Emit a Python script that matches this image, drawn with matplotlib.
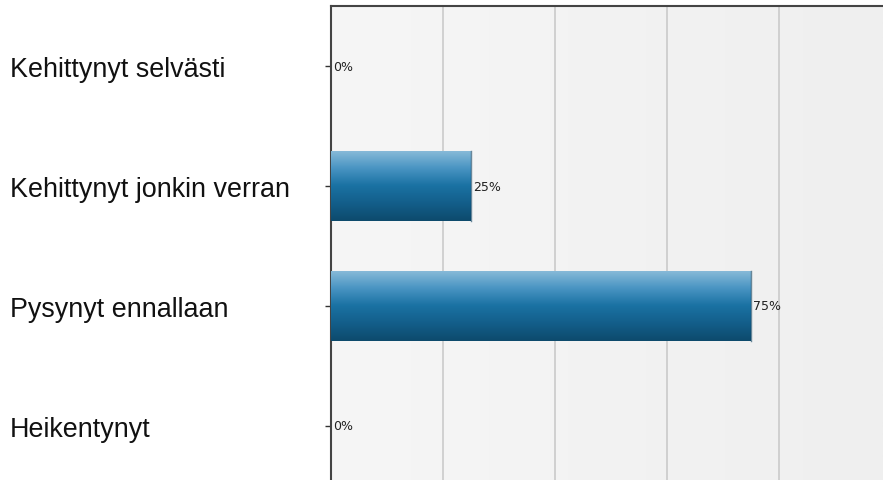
import matplotlib
matplotlib.use("Agg")
import matplotlib.pyplot as plt
import numpy as np
from matplotlib.colors import LinearSegmentedColormap

categories = ["Kehittynyt selvästi", "Kehittynyt jonkin verran", "Pysynyt ennallaan", "Heikentynyt"]
values = [0, 25, 75, 0]
value_labels = ["0%", "25%", "75%", "0%"]

fig = plt.figure(figsize=(8.83, 4.81), dpi=100)
ax = fig.add_axes([331/883, 0, 1 - 331/883, 1 - 7/481])

ypos = np.arange(len(categories))
xmax = (883 - 331) / 560 * 100
ax.set_xlim(0, xmax)
ax.set_ylim(3.45, -0.5)

# background gradient
bg = LinearSegmentedColormap.from_list("bg", ["#f6f6f6", "#efefef"])
ax.imshow(np.linspace(0, 1, 256)[None, :], cmap=bg, aspect="auto",
          extent=[0, xmax, 3.45, -0.5], zorder=0)

for x in [20, 40, 60, 80]:
    ax.axvline(x, color="#cacaca", lw=1.2, zorder=1)

bars = ax.barh(ypos, values, height=0.59, color="#1a6e9c", edgecolor="none", zorder=2)
grad = LinearSegmentedColormap.from_list("bar", ["#8bbcd9", "#4a95c3", "#1a72a3", "#135e8a", "#0d4a6c"])
for b in bars:
    if b.get_width() <= 0:
        continue
    x0, y0 = b.get_x(), b.get_y()
    w, h = b.get_width(), b.get_height()
    im = ax.imshow(np.linspace(0, 1, 256)[:, None], cmap=grad, aspect="auto",
                   extent=[x0, x0 + w, y0 + h, y0], zorder=3)
    im.set_clip_path(b)
    ax.plot([x0 + w, x0 + w], [y0, y0 + h], color="#0c3f5e", lw=1, alpha=0.6, zorder=4)

for y, v, lab in zip(ypos, values, value_labels):
    ax.text(v + 0.3, y, lab, va="center", ha="left", fontsize=9, color="#222222", zorder=5)

ax.set_yticks(ypos)
ax.set_yticklabels([])
ax.set_xticks([])
ax.tick_params(axis="y", direction="out", length=4, width=1, color="#333333")
for s in ["right", "bottom"]:
    ax.spines[s].set_visible(False)
ax.spines["left"].set_color("#444444")
ax.spines["left"].set_linewidth(1.5)
ax.spines["top"].set_color("#444444")
ax.spines["top"].set_linewidth(1.5)

for y, c in zip(ypos, categories):
    yfig = ax.transData.transform((0, y))[1] - 10
    fig.text(10/883, yfig/481, c, ha="left", va="baseline", fontsize=19.4,
             family="Liberation Sans", color="#111111")

fig.savefig("out.png", dpi=100)
